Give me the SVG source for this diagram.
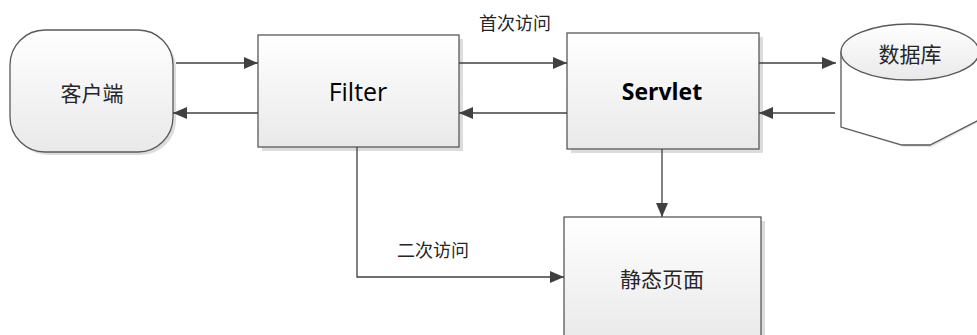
<svg xmlns="http://www.w3.org/2000/svg" width="977" height="335" viewBox="0 0 977 335">
<defs>
<linearGradient id="g" x1="0" y1="0" x2="0" y2="1">
<stop offset="0" stop-color="#ffffff"/>
<stop offset="1" stop-color="#e9e9e9"/>
</linearGradient>
<marker id="ah" viewBox="0 0 14 12" refX="14" refY="6" markerWidth="14" markerHeight="12" markerUnits="userSpaceOnUse" orient="auto">
<path d="M0,0 L14,6 L0,12 Z" fill="#404040"/>
</marker>
<style>
.box{fill:url(#g);stroke:#595959;stroke-width:1.3}
.sh{fill:#dcdcdc}
.cjk{font-family:"Noto Sans CJK SC",sans-serif;fill:#262626;text-anchor:middle;dominant-baseline:central}
.en{font-family:"Open Sans","Liberation Sans",sans-serif;fill:#000;text-anchor:middle;dominant-baseline:central}
.ln{fill:none;stroke:#404040;stroke-width:1.3}
</style>
</defs>
<rect width="977" height="335" fill="#fff"/>
<g id="client">
<rect class="sh" x="13" y="33" width="163" height="122" rx="35"/>
<rect class="box" x="10" y="30" width="163" height="122" rx="35"/>
<text class="cjk" x="92" y="92" font-size="21">客户端</text>
</g>
<g id="filter">
<rect class="sh" x="262" y="39" width="201" height="112"/>
<rect class="box" x="258" y="35" width="201" height="112"/>
<text class="en" x="358" y="91" font-size="25">Filter</text>
</g>
<g id="servlet">
<rect class="sh" x="571" y="37" width="192" height="116"/>
<rect class="box" x="567" y="33" width="192" height="116"/>
<text class="en" x="662" y="91" font-size="23" font-weight="bold">Servlet</text>
</g>
<g id="database">
<path d="M843,54 L843,129 L904,147 L932,147 L979,122 L979,54 Z" fill="#e6e6e6"/>
<path d="M841,52 L841,127 L902,145 L930,145 L979,120 L979,52 Z" fill="#fff" stroke="#595959" stroke-width="1.3"/>
<ellipse cx="910" cy="52" rx="69" ry="28" fill="url(#g)" stroke="#595959" stroke-width="1.3"/>
<text class="cjk" x="910" y="53" font-size="21">数据库</text>
</g>
<g id="static">
<rect class="sh" x="568" y="221" width="197" height="120"/>
<rect class="box" x="564" y="217" width="197" height="125"/>
<text class="cjk" x="662" y="278" font-size="21">静态页面</text>
</g>
<g id="connectors">
<line class="ln" x1="176" y1="63" x2="258" y2="63" marker-end="url(#ah)"/>
<line class="ln" x1="258" y1="113" x2="173" y2="113" marker-end="url(#ah)"/>
<line class="ln" x1="459" y1="63" x2="567" y2="63" marker-end="url(#ah)"/>
<line class="ln" x1="567" y1="113" x2="459" y2="113" marker-end="url(#ah)"/>
<line class="ln" x1="759" y1="63" x2="836" y2="63" marker-end="url(#ah)"/>
<line class="ln" x1="835" y1="113" x2="759" y2="113" marker-end="url(#ah)"/>
<line class="ln" x1="662" y1="149" x2="662" y2="217" marker-end="url(#ah)"/>
<polyline class="ln" points="357,147 357,277 564,277" marker-end="url(#ah)"/>
<text class="cjk" x="515" y="22" font-size="18">首次访问</text>
<text class="cjk" x="433" y="249" font-size="18">二次访问</text>
</g>
</svg>
